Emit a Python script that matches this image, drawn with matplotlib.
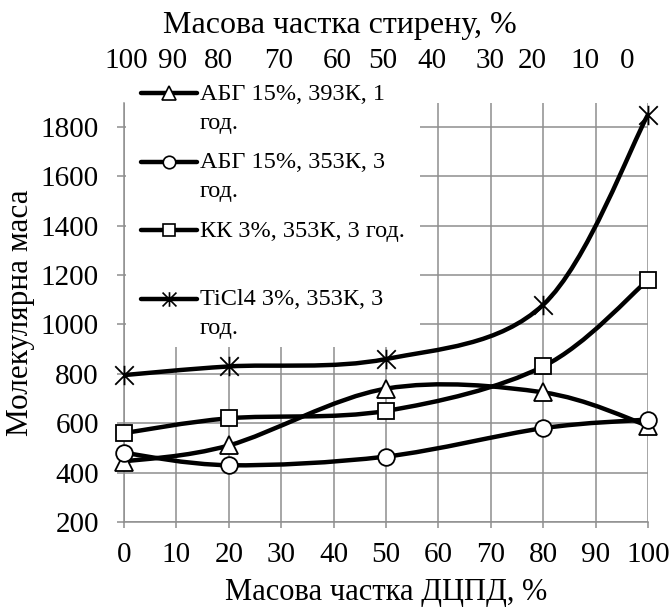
import matplotlib
matplotlib.use("Agg")
import matplotlib.pyplot as plt
from matplotlib.path import Path
from matplotlib.patches import PathPatch
import numpy as np

# ДЦПД mass fraction, %
dcpd = [0, 20, 50, 80, 100]

# molecular mass per catalyst / conditions
abg_393_1h = [445, 510, 740, 725, 590]
abg_353_3h = [480, 430, 465, 580, 615]
kk_353_3h = [560, 620, 650, 830, 1180]
ticl4_353_3h = [795, 830, 860, 1080, 1850]

series_labels = [
    "АБГ 15%, 393К, 1\nгод.",
    "АБГ 15%, 353К, 3\nгод.",
    "КК 3%, 353К, 3 год.",
    "TiCl4 3%, 353К, 3\nгод.",
]

# top axis (styrene fraction) labels, as typed on the original chart
styrene_labels = ["100", "90", "80", "70", "60", "50", "40", "30", "20", "10", "0"]
# where they sit, in ДЦПД-axis units
styrene_label_pos = [0.5, 9.2, 18.0, 29.6, 40.7, 49.3, 58.8, 69.8, 77.9, 88.0, 96.0]

FONT = "Liberation Serif"
GRID = "#8e8e8e"

STAR = Path([(-1, -1), (1, 1), (-1, 1), (1, -1), (0, -1.05), (0, 1.05)],
            [Path.MOVETO, Path.LINETO, Path.MOVETO, Path.LINETO,
             Path.MOVETO, Path.LINETO])

styles = [
    {"marker": "^", "ms": 13},
    {"marker": "o", "ms": 12},
    {"marker": "s", "ms": 11.5},
    {"marker": STAR, "ms": 14},
]


def smooth_path(xs, ys):
    # Excel-like smoothed line: cubic Bezier through the points
    pts = np.column_stack([xs, ys]).astype(float)
    ext = np.vstack([pts[0], pts, pts[-1]])
    verts = [pts[0]]
    codes = [Path.MOVETO]
    for i in range(len(pts) - 1):
        p0, p1, p2, p3 = ext[i], ext[i + 1], ext[i + 2], ext[i + 3]
        verts += [p1 + (p2 - p0) / 6, p2 - (p3 - p1) / 6, p2]
        codes += [Path.CURVE4] * 3
    return Path(verts, codes)


plt.rcParams["font.family"] = FONT

W, H = 671, 611
fig = plt.figure(figsize=(W / 100, H / 100), dpi=100)
ax = fig.add_axes([124 / W, 1 - 522 / H, (648 - 124) / W, (522 - 103) / H])

all_series = [abg_393_1h, abg_353_3h, kk_353_3h, ticl4_353_3h]
for ys, st in zip(all_series, styles):
    ax.add_patch(PathPatch(smooth_path(dcpd, ys), fill=False, edgecolor="black",
                           lw=3.2, capstyle="round", joinstyle="round", zorder=3))
    ax.plot(dcpd, ys, linestyle="none", marker=st["marker"], ms=st["ms"],
            mfc="white", mec="black", mew=1.3, zorder=4, clip_on=False)

ax.set_xlim(0, 100)
ax.set_ylim(200, 1897)
ax.set_xticks(np.arange(0, 101, 10))
ax.set_yticks(np.arange(200, 1801, 200))
ax.grid(True, color=GRID, lw=1.1)
ax.set_axisbelow(True)
for side in ["top", "right"]:
    ax.spines[side].set_visible(False)
for side in ["left", "bottom"]:
    ax.spines[side].set_color(GRID)
    ax.spines[side].set_linewidth(1.1)
ax.tick_params(axis="y", length=5, width=1.1, color=GRID, labelsize=21, pad=13)
ax.tick_params(axis="x", length=4.5, width=1.1, color=GRID, labelsize=21, pad=10)
ax.set_xlabel("Масова частка ДЦПД, %", fontsize=22, labelpad=7)
ax.set_ylabel("Молекулярна маса", fontsize=22.5, labelpad=4)

# top axis
ax2 = ax.twiny()
ax2.set_xlim(ax.get_xlim())
ax2.set_xticks(styrene_label_pos)
ax2.set_xticklabels(styrene_labels)
ax2.tick_params(axis="x", length=0, labelsize=21, pad=21)
for s in ax2.spines.values():
    s.set_visible(False)
ax2.patch.set_visible(False)
fig.text(340 / W, 1 - 26 / H, "Масова частка стирену, %", fontsize=23,
         ha="center", va="center")

# legend box drawn over the upper-left of the plot
leg = fig.add_axes([126 / W, 1 - 347 / H, (420 - 126) / W, (347 - 78) / H],
                   zorder=5)
leg.set_xlim(126, 420)
leg.set_ylim(347, 78)
leg.axis("off")
leg.add_patch(plt.Rectangle((126, 78), 294, 269, facecolor="white",
                            edgecolor="none"))
for i, (lab, st) in enumerate(zip(series_labels, styles)):
    y = 93 + i * 68.5
    leg.plot([141, 169, 197], [y, y, y], color="black", lw=3.2,
             marker=st["marker"], markevery=[1], ms=st["ms"] * 0.75,
             mfc="white", mec="black", mew=1.2, solid_capstyle="round")
    for k, line in enumerate(lab.split("\n")):
        leg.text(200, y + 1 + k * 29, line, fontsize=17.5, ha="left", va="center")

fig.savefig("out.png", dpi=100)
